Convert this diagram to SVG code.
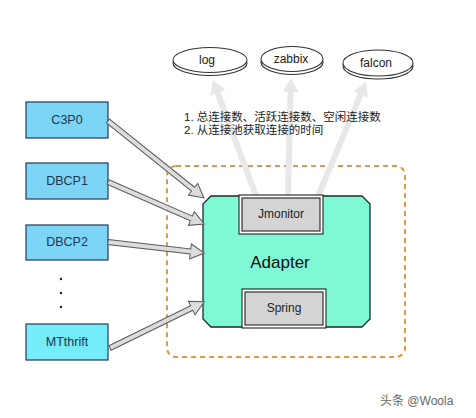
<svg xmlns="http://www.w3.org/2000/svg" width="476" height="418" viewBox="0 0 476 418">
<style>
.src{stroke:#1f3b57;stroke-width:1.2}
.srct{font-family:"Liberation Sans",Arial,sans-serif;font-size:12.5px;fill:#1a3550;text-anchor:middle}
.disk{fill:#fff;stroke:#333;stroke-width:1.1}
.dt{font-family:"Liberation Sans",Arial,sans-serif;font-size:12px;fill:#222;text-anchor:middle}
.in{fill:#d4d4d4;stroke:#222;stroke-width:1.1}
.it{font-family:"Liberation Sans",Arial,sans-serif;font-size:12px;fill:#222;text-anchor:middle}
.arr{fill:#dcdcdc;stroke:#5a5a5a;stroke-width:1}
.up{fill:#e8e8e8;stroke:none}
.note{font-family:"Liberation Sans","Noto Sans CJK SC",sans-serif;font-size:11.5px;fill:#222}
</style>
<rect width="476" height="418" fill="#fff"/>

<rect id="boundary" x="167" y="166" width="238" height="191" rx="9" fill="none" stroke="#e09a45" stroke-width="2" stroke-dasharray="5,4"/>

<g id="monitor-connectors">
<path class="up" transform="translate(256,196) rotate(-110.34)" d="M0,-3 H110 V-8 L124,0 L110,8 V3 H0 Z"/>
<path class="up" transform="translate(288,196) rotate(-88.54)" d="M0,-3 H104 V-8 L118,0 L104,8 V3 H0 Z"/>
<path class="up" transform="translate(318,196) rotate(-67.17)" d="M0,-3 H110 V-8 L124,0 L110,8 V3 H0 Z"/>
</g>

<g id="log">
<ellipse class="disk" cx="210" cy="63" rx="37" ry="12.5"/>
<ellipse class="disk" cx="210" cy="60" rx="37" ry="12.5"/>
<text class="dt" x="207" y="64">log</text>
</g>
<g id="zabbix">
<ellipse class="disk" cx="292" cy="62" rx="31" ry="12.5"/>
<ellipse class="disk" cx="292" cy="59" rx="31" ry="12.5"/>
<text class="dt" x="291" y="63">zabbix</text>
</g>
<g id="falcon">
<ellipse class="disk" cx="378" cy="66" rx="35" ry="13"/>
<ellipse class="disk" cx="378" cy="63" rx="35" ry="13"/>
<text class="dt" x="376" y="67">falcon</text>
</g>

<g id="note">
<text class="note" x="184" y="121">1. 总连接数、活跃连接数、空闲连接数</text>
<text class="note" x="184" y="134">2. 从连接池获取连接的时间</text>
</g>

<g id="C3P0">
<rect class="src" x="26" y="102" width="82" height="36" fill="#7dd5f6"/>
<text class="srct" x="67" y="124">C3P0</text>
</g>
<g id="DBCP1">
<rect class="src" x="26" y="163" width="82" height="36" fill="#7dd5f6"/>
<text class="srct" x="67" y="185">DBCP1</text>
</g>
<g id="DBCP2">
<rect class="src" x="26" y="225" width="82" height="35" fill="#7dd5f6"/>
<text class="srct" x="67" y="246">DBCP2</text>
</g>
<g id="dots" fill="#222">
<circle cx="61" cy="279" r="1.2"/>
<circle cx="61" cy="293" r="1.2"/>
<circle cx="61" cy="307" r="1.2"/>
</g>
<g id="MTthrift">
<rect class="src" x="26" y="324" width="82" height="36" fill="#74ecfa"/>
<text class="srct" x="67" y="346">MTthrift</text>
</g>

<g id="Adapter">
<path d="M211,196 H362 L370,204 V319 L362,327 H211 L203,319 V204 Z" fill="#7ff8d6" stroke="#1c2b28" stroke-width="1.3"/>
<text x="280" y="268" font-family="Liberation Sans,Arial,sans-serif" font-size="17" fill="#111" text-anchor="middle">Adapter</text>
</g>
<g id="Jmonitor">
<rect x="239" y="195" width="84" height="39" fill="#fff" stroke="#222" stroke-width="1.1"/>
<rect class="in" x="242" y="198" width="78" height="33"/>
<text class="it" x="281" y="218">Jmonitor</text>
</g>
<g id="Spring">
<rect x="242" y="289" width="84" height="39" fill="#fff" stroke="#222" stroke-width="1.1"/>
<rect class="in" x="245" y="292" width="78" height="33"/>
<text class="it" x="284" y="312">Spring</text>
</g>

<g id="source-connectors">
<path class="arr" transform="translate(108,121) rotate(38.73)" d="M0,-2.5 H109 V-7.5 L123,0 L109,7.5 V2.5 H0 Z"/>
<path class="arr" transform="translate(108,182) rotate(23.63)" d="M0,-2.5 H91 V-7.5 L105,0 L91,7.5 V2.5 H0 Z"/>
<path class="arr" transform="translate(108,242) rotate(6.54)" d="M0,-2.5 H83 V-7.5 L97,0 L83,7.5 V2.5 H0 Z"/>
<path class="arr" transform="translate(110,348) rotate(-26.08)" d="M0,-2.5 H91 V-7.5 L105,0 L91,7.5 V2.5 H0 Z"/>
</g>

<text x="380" y="405" font-family="Liberation Sans,'Noto Sans CJK SC',sans-serif" font-size="12" fill="#666">头条 @Woola</text>
</svg>
